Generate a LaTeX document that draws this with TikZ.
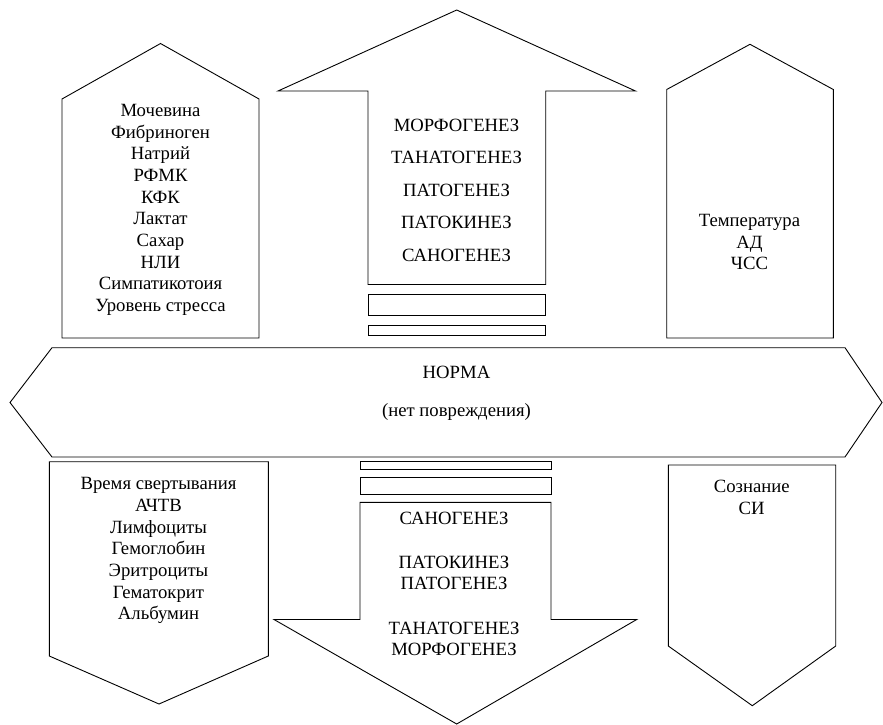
\documentclass[tikz,border=0pt]{standalone}
\usepackage{fontspec}
\setmainfont{Liberation Serif}
\tikzset{
  shp/.style={draw=black, line width=0.9pt, line join=miter},
  lbl/.style={inner sep=0pt, text height=12.8pt, text depth=0pt, font=\fontsize{18.7}{21.7}\selectfont, anchor=center}
}
\begin{document}
\begin{tikzpicture}[x=1pt,y=-1pt]
\useasboundingbox (0,0) rectangle (883,725);
% top-left pentagon
\draw[shp] (62,99) -- (160.5,43.5) -- (259,99) -- (259,338) -- (62,338) -- cycle;
\foreach \t [count=\i] in {Мочевина,Фибриноген,Натрий,РФМК,КФК,Лактат,Сахар,НЛИ,Симпатикотоия,Уровень стресса}
  \node[lbl] (tl\i) at (160.5,{110+(\i-1)*21.67}) {\t};
% top middle arrow
\draw[shp] (368,284.5) -- (368,91) -- (278,91) -- (456.7,10) -- (635.5,91) -- (545.7,91) -- (545.7,284.5) -- cycle;
\draw[shp] (368,294.5) rectangle (545.7,315);
\draw[shp] (368,325) rectangle (545.7,335);
\foreach \t [count=\i] in {МОРФОГЕНЕЗ,ТАНАТОГЕНЕЗ,ПАТОГЕНЕЗ,ПАТОКИНЕЗ,САНОГЕНЕЗ}
  \node[lbl] (tm\i) at (456.5,{125+(\i-1)*32.5}) {\t};
% top-right pentagon
\draw[shp] (666.7,89.5) -- (750,44.3) -- (833.3,89.5) -- (833.3,338) -- (666.7,338) -- cycle;
\foreach \t [count=\i] in {Температура,АД,ЧСС}
  \node[lbl] (tr\i) at (749.5,{220+(\i-1)*21.67}) {\t};
% middle hexagon
\draw[shp] (10,402.5) -- (52,347.7) -- (845,347.7) -- (882,402.5) -- (845,457) -- (52,457) -- cycle;
\node[lbl] (norma) at (456.5,372) {НОРМА};
\node[lbl] (net) at (456.5,410) {(нет повреждения)};
% bottom-left pentagon
\draw[shp] (49.3,461.7) -- (268.3,461.7) -- (268.3,656) -- (159,704) -- (49.3,656) -- cycle;
\foreach \t [count=\i] in {Время свертывания,АЧТВ,Лимфоциты,Гемоглобин,Эритроциты,Гематокрит,Альбумин}
  \node[lbl] (bl\i) at (158.5,{483.5+(\i-1)*21.67}) {\t};
% bottom middle arrow
\draw[shp] (360,461.7) rectangle (551,469.3);
\draw[shp] (360,477.7) rectangle (551,494);
\draw[shp] (360,502.3) -- (551,502.3) -- (551,619.5) -- (636.7,619.5) -- (456.7,724) -- (274,619.5) -- (360,619.5) -- cycle;
\node[lbl] (bm1) at (454,518.5) {САНОГЕНЕЗ};
\node[lbl] (bm2) at (454,561.7) {ПАТОКИНЕЗ};
\node[lbl] (bm3) at (454,583.3) {ПАТОГЕНЕЗ};
\node[lbl] (bm4) at (454,628.3) {ТАНАТОГЕНЕЗ};
\node[lbl] (bm5) at (454,649.5) {МОРФОГЕНЕЗ};
% bottom-right pentagon
\draw[shp] (668.3,465) -- (835.7,465) -- (835.7,646) -- (752.3,705.7) -- (668.3,646) -- cycle;
\node[lbl] (br1) at (751.7,485.7) {Сознание};
\node[lbl] (br2) at (751.7,508.3) {СИ};
\end{tikzpicture}
\end{document}
